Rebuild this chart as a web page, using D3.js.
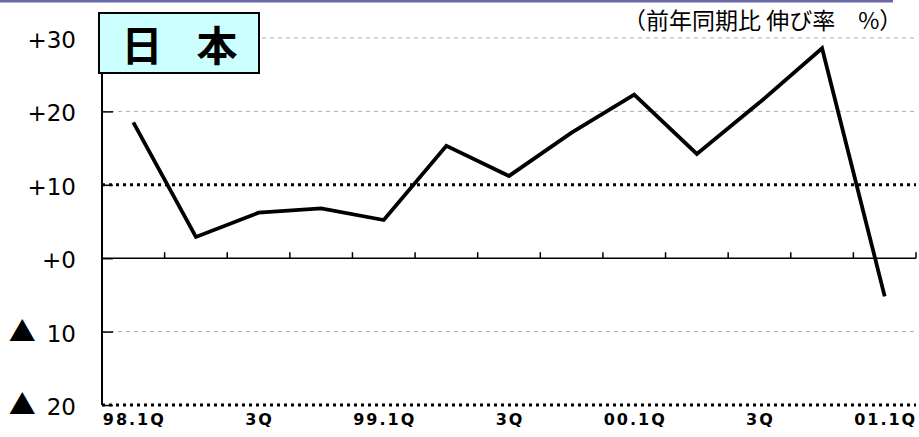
<!DOCTYPE html>
<html><head><meta charset="utf-8">
<script src="https://cdn.jsdelivr.net/npm/d3@7"></script>
<style>body{margin:0;background:#fff}svg{display:block}</style>
</head><body>
<script>
const categories = ["98.1Q","2Q","3Q","4Q","99.1Q","2Q","3Q","4Q","00.1Q","2Q","3Q","4Q","01.1Q"];
const tickLabels = ["98.1Q","","3Q","","99.1Q","","3Q","","00.1Q","","3Q","","01.1Q"];
const values = [18.5, 2.9, 6.2, 6.8, 5.2, 15.3, 11.2, 17.1, 22.3, 14.2, 21.2, 28.6, -5.2];
const yTicks = [30, 20, 10, 0, -10, -20];
const yTickLabels = ["+30","+20","+10","+0","▲10","▲20"];
const titleChars = ["日", "本"];
const unitNote = "（前年同期比 伸び率　%）";

const W = 919, H = 437;
const svg = d3.select("body").append("svg").attr("width", W).attr("height", H);

const x = d3.scaleBand().domain(d3.range(categories.length)).range([102, 916]).padding(0);
const y = d3.scaleLinear().domain([-20, 30]).range([405, 38]);

// top purple rule
svg.append("rect").attr("x", 0).attr("y", 0).attr("width", 893).attr("height", 2.5).attr("fill", "#6a6aa8");

// gridlines
const grid = svg.append("g");
yTicks.forEach(v => {
  if (v === 0) return;
  const strong = (v === 10 || v === -20);
  grid.append("line")
    .attr("x1", 102).attr("x2", 916)
    .attr("y1", y(v)).attr("y2", y(v))
    .attr("stroke", strong ? "#000" : "#aaa")
    .attr("stroke-width", strong ? 3 : 1)
    .attr("stroke-dasharray", strong ? "3,4" : "4,4");
});

// y axis (inner ticks)
const yAxis = d3.axisRight(y).tickValues(yTicks).tickSize(11).tickFormat("");
const yg = svg.append("g").attr("transform", "translate(102,0)").call(yAxis);
yg.select(".domain").remove();
yg.selectAll(".tick line").attr("stroke", "#000").attr("stroke-width", 1.5);
svg.append("line").attr("x1", 102).attr("x2", 102).attr("y1", 74).attr("y2", y(-20))
  .attr("stroke", "#000").attr("stroke-width", 2);

// y labels
const yl = svg.append("g").selectAll("text").data(yTicks).join("text")
  .attr("x", 76).attr("y", d => y(d) + 2).attr("dy", "0.35em")
  .attr("text-anchor", "end")
  .attr("font-family", "DejaVu Sans, sans-serif")
  .attr("font-size", 23)
  .attr("fill", "#000");
yl.each(function(d, i) {
  const lab = yTickLabels[i];
  const t = d3.select(this);
  if (lab.startsWith("▲")) {
    t.append("tspan").attr("font-family", "Noto Sans CJK JP, sans-serif")
      .attr("font-size", 27).text("▲");
    t.append("tspan").attr("dx", 11).text(lab.slice(1));
  } else {
    t.text(lab);
  }
});

// zero axis with upward ticks at category boundaries
const bounds = d3.range(1, categories.length + 1).map(i => x.range()[0] + i * x.bandwidth());
svg.append("line").attr("x1", 102).attr("x2", 916).attr("y1", y(0)).attr("y2", y(0))
  .attr("stroke", "#000").attr("stroke-width", 1.5);
svg.append("g").selectAll("line").data(bounds).join("line")
  .attr("x1", d => d).attr("x2", d => d)
  .attr("y1", y(0)).attr("y2", y(0) - 6)
  .attr("stroke", "#000").attr("stroke-width", 1.5);

// x labels
svg.append("g").selectAll("text").data(tickLabels).join("text")
  .attr("x", (d, i) => x(i) + x.bandwidth() / 2 + 1)
  .attr("y", 425)
  .attr("text-anchor", "middle")
  .attr("font-family", "DejaVu Sans, sans-serif")
  .attr("font-weight", "bold")
  .attr("font-size", 16)
  .attr("letter-spacing", "2px")
  .attr("fill", "#000")
  .text(d => d);

// line
const line = d3.line().x((d, i) => x(i) + x.bandwidth() / 2).y(d => y(d));
svg.append("path").datum(values).attr("d", line)
  .attr("fill", "none").attr("stroke", "#000").attr("stroke-width", 3.8)
  .attr("stroke-linejoin", "miter");

// title box
svg.append("rect").attr("x", 99).attr("y", 13).attr("width", 160).attr("height", 60)
  .attr("fill", "#ccffff").attr("stroke", "#000").attr("stroke-width", 2);
svg.append("g").selectAll("text").data(titleChars).join("text")
  .attr("x", (d, i) => i === 0 ? 142 : 217).attr("y", 61).attr("text-anchor", "middle")
  .attr("font-family", "Noto Sans CJK JP, sans-serif").attr("font-weight", "bold")
  .attr("font-size", 41).attr("fill", "#000").text(d => d);

// unit note
svg.append("text").attr("x", 623).attr("y", 29).attr("text-anchor", "start")
  .attr("font-family", "Noto Sans CJK JP, sans-serif")
  .attr("font-size", 23).attr("fill", "#000").text(unitNote);
</script>
</body></html>
